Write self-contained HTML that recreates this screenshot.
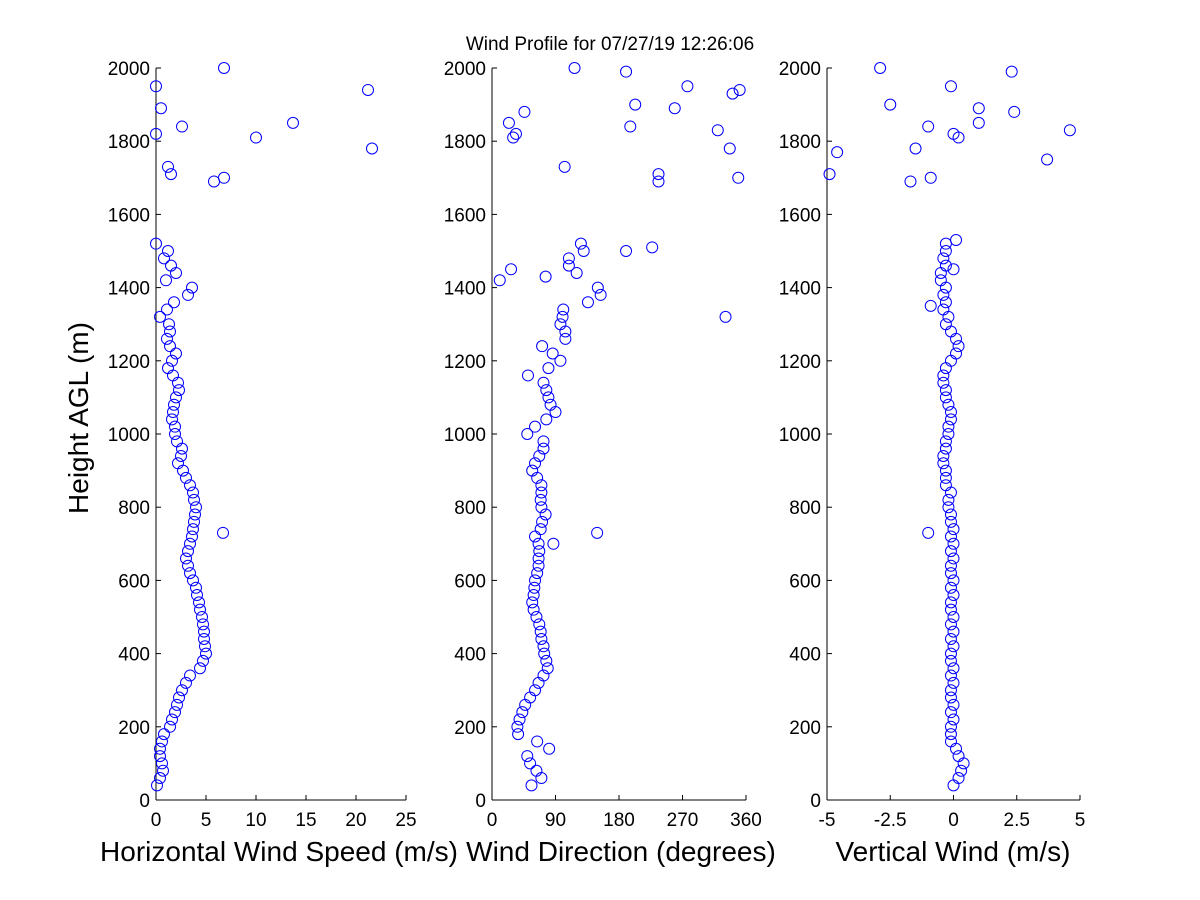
<!DOCTYPE html>
<html><head><meta charset="utf-8"><style>
html,body{margin:0;padding:0;background:#fff;}
svg{display:block;font-family:"Liberation Sans",Arial,sans-serif;}
</style></head><body>
<svg id="chart" width="1200" height="900" viewBox="0 0 1200 900">
<rect width="1200" height="900" fill="#fff"/>
<text x="610" y="50" font-size="19" text-anchor="middle">Wind Profile for  07/27/19 12:26:06</text>
<text transform="translate(88,418) rotate(-90)" font-size="28" text-anchor="middle">Height AGL (m)</text>
</svg>
<script>
const heights = [40,60,80,100,120,140,160,180,200,220,240,260,280,300,320,340,360,380,400,420,440,460,480,500,520,540,560,580,600,620,640,660,680,700,720,740,760,780,800,820,840,860,880,900,920,940,960,980,1000,1020,1040,1060,1080,1100,1120,1140,1160,1180,1200,1220,1240,1260,1280,1300,1320,1340,1360,1380,1400,1420,1440,1460,1480,1500,1520];
const speed = [0.1,0.4,0.7,0.6,0.4,0.4,0.6,0.8,1.4,1.6,1.9,2.1,2.3,2.6,3.0,3.4,4.4,4.7,5.0,4.9,4.8,4.8,4.7,4.6,4.4,4.3,4.1,4.0,3.7,3.4,3.2,3.0,3.2,3.4,3.6,3.7,3.8,3.9,4.0,3.8,3.7,3.4,3.0,2.7,2.2,2.5,2.6,2.1,1.9,1.9,1.6,1.7,1.8,2.0,2.3,2.2,1.7,1.2,1.6,2.0,1.4,1.1,1.4,1.3,0.4,1.1,1.8,3.2,3.6,1.0,2.0,1.5,0.8,1.2,0.0];
const direction = [56,70,63,54,50,81,64,37,36,39,43,47,54,61,66,73,79,77,74,73,70,69,67,63,59,57,59,60,61,64,66,66,67,66,61,69,71,76,70,69,70,70,64,57,61,67,73,73,50,61,77,90,83,80,77,73,51,80,97,86,71,104,104,97,100,101,136,154,150,11,120,109,109,130,126];
const vertical = [0,0.2,0.3,0.4,0.2,0.1,-0.1,-0.1,-0.1,0,-0.1,0,-0.1,-0.1,0,-0.1,0,-0.1,-0.1,0,-0.1,0,-0.1,0,-0.1,-0.1,0,-0.1,0,-0.1,-0.1,0,-0.1,0,-0.1,0,-0.1,-0.1,-0.2,-0.2,-0.1,-0.3,-0.3,-0.3,-0.4,-0.4,-0.3,-0.3,-0.2,-0.2,-0.1,-0.1,-0.2,-0.3,-0.3,-0.4,-0.4,-0.3,-0.1,0.1,0.2,0.1,-0.1,-0.3,-0.2,-0.4,-0.3,-0.4,-0.3,-0.5,-0.5,-0.3,-0.4,-0.3,-0.3];
const speedExtraH = [1950,1890,1820,1840,1730,1710,1690,1700,2000,1940,1780,1850,1810,730];
const speedExtraV = [0,0.5,0,2.6,1.2,1.5,5.8,6.8,6.8,21.2,21.6,13.7,10.0,6.7];
const dirExtraH = [2000,1990,1950,1940,1930,1900,1890,1880,1850,1820,1810,1840,1830,1780,1730,1710,1690,1700,1510,1500,1450,1320,730,700,1430];
const dirExtraV = [117,190,277,351,341,203,259,46,24,34,30,196,320,337,103,236,236,349,227,190,27,331,149,87,76];
const vertExtraH = [2000,1990,1950,1900,1890,1880,1850,1840,1830,1820,1810,1780,1770,1750,1710,1700,1690,1530,1450,1350,730];
const vertExtraV = [-2.9,2.3,-0.1,-2.5,1.0,2.4,1.0,-1.0,4.6,0,0.2,-1.5,-4.6,3.7,-4.9,-0.9,-1.7,0.1,0,-0.9,-1.0];
const yTicks = [0,200,400,600,800,1000,1200,1400,1600,1800,2000];
const speedTicks = [0,5,10,15,20,25];
const dirTicks = [0,90,180,270,360];
const vertTicks = [-5,-2.5,0,2.5,5];
const vertTickLabels = ['-5','-2.5','0','2.5','5'];

const NS='http://www.w3.org/2000/svg';
const svg=document.getElementById('chart');
const yTop=68,yBot=800;
const yScale=h=>yBot-(h/2000)*(yBot-yTop);
function el(tag,attrs,parent){const e=document.createElementNS(NS,tag);for(const k in attrs)e.setAttribute(k,attrs[k]);(parent||svg).appendChild(e);return e;}

const panels=[
 {key:'speed',x0:156,x1:406,min:0,max:25,ticks:speedTicks,labels:speedTicks.map(String),title:'Horizontal Wind Speed (m/s)',tx:279,
  series:[[heights,speed],[speedExtraH,speedExtraV]]},
 {key:'direction',x0:492,x1:746,min:0,max:360,ticks:dirTicks,labels:dirTicks.map(String),title:'Wind Direction (degrees)',tx:621,
  series:[[heights,direction],[dirExtraH,dirExtraV]]},
 {key:'vertical',x0:827,x1:1080,min:-5,max:5,ticks:vertTicks,labels:vertTickLabels,title:'Vertical Wind (m/s)',tx:953,
  series:[[heights,vertical],[vertExtraH,vertExtraV]]}
];
panels.forEach(p=>{
  const g=el('g',{});
  
  
  const xs=v=>p.x0+(v-p.min)/(p.max-p.min)*(p.x1-p.x0);
  const ya=el('line',{x1:p.x0,y1:yTop,x2:p.x0,y2:yBot,stroke:'#000','stroke-width':1},g);
  
  
  const xa=el('line',{x1:p.x0,y1:yBot,x2:p.x1,y2:yBot,stroke:'#000','stroke-width':1},g);
  
  
  yTicks.forEach(t=>{
    const y=yScale(t);
    el('line',{x1:p.x0,y1:y,x2:p.x0+5,y2:y,stroke:'#000'},g);
    const tx=el('text',{x:p.x0-6,y:y+7,'font-size':19,'text-anchor':'end'},g);
    tx.textContent=t;
    
    
  });
  p.ticks.forEach((t,i)=>{
    const x=xs(t);
    el('line',{x1:x,y1:yBot,x2:x,y2:yBot-5,stroke:'#000'},g);
    const tx=el('text',{x:x,y:yBot+26,'font-size':19,'text-anchor':'middle'},g);
    tx.textContent=p.labels[i];
    
    
  });
  const tt=el('text',{x:p.tx,y:861,'font-size':28,'text-anchor':'middle'},g);
  tt.textContent=p.title;
  
  
  p.series.forEach(([hs,vs])=>{
    hs.forEach((h,i)=>{
      const c=el('circle',{cx:xs(vs[i]),cy:yScale(h),r:5.5,fill:'none',stroke:'#0000ff','stroke-width':1},g);
      
      
    });
  });
});
</script>
</body></html>
